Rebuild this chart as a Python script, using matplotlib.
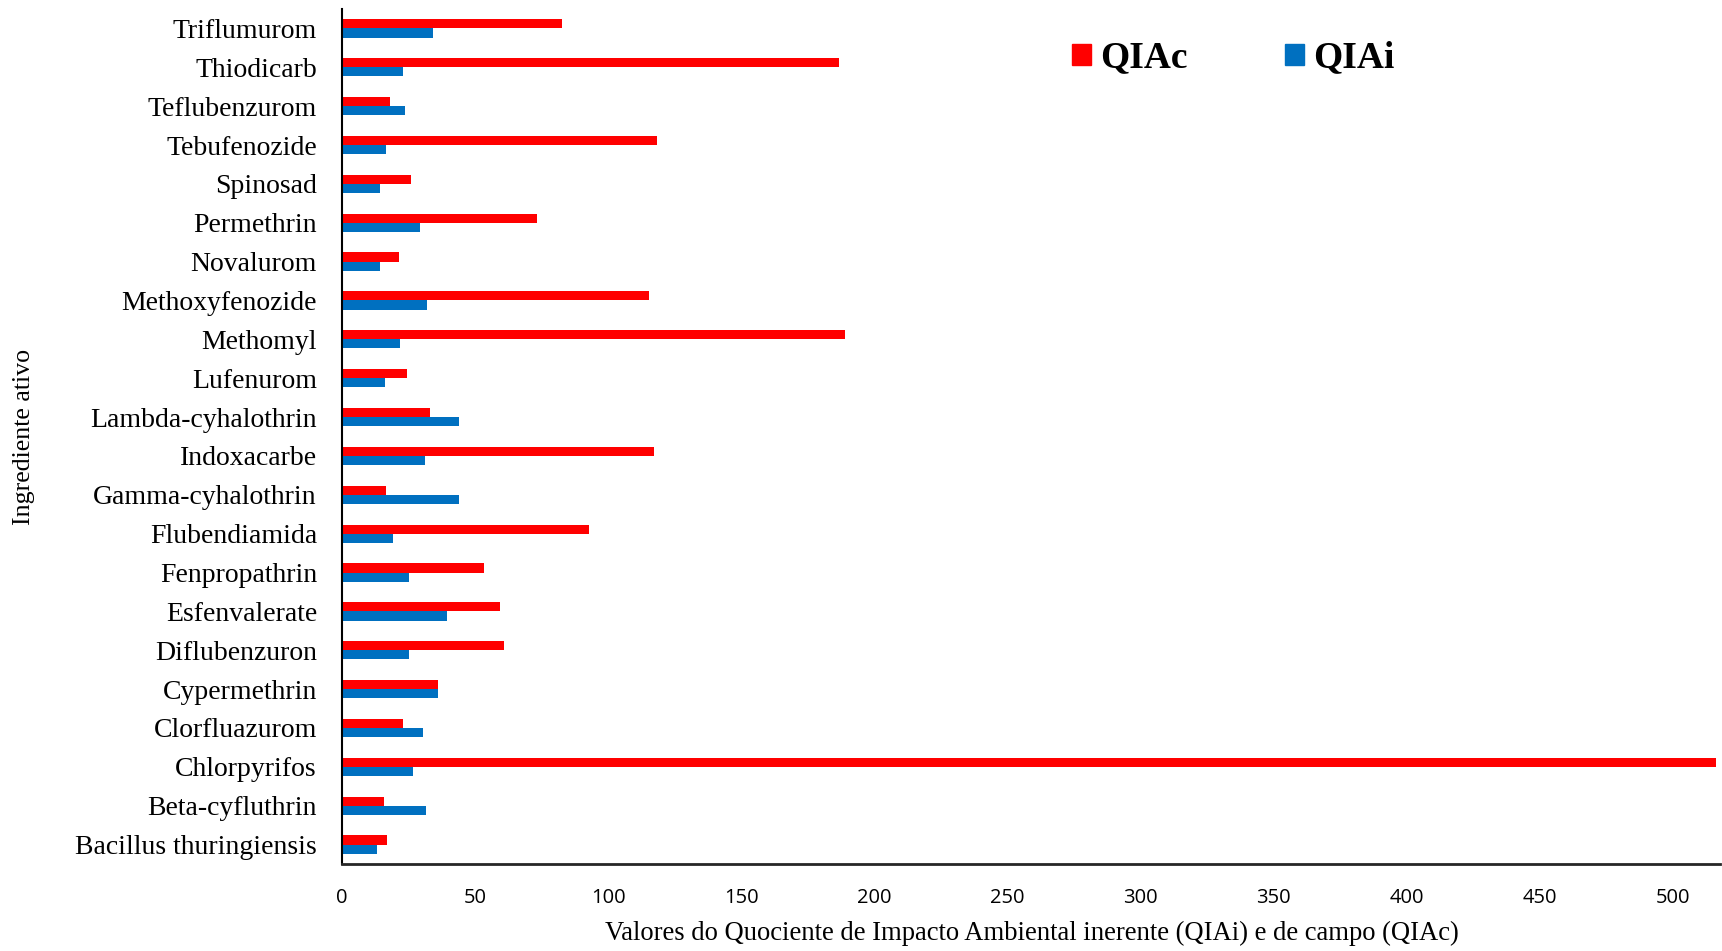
import numpy as np
import matplotlib.pyplot as plt
from matplotlib.patches import Patch


# ingredientes, from bottom to top as in the chart
ingredientes = ['Bacillus thuringiensis', 'Beta-cyfluthrin', 'Chlorpyrifos', 'Clorfluazurom',
                'Cypermethrin', 'Diflubenzuron', 'Esfenvalerate', 'Fenpropathrin',
                'Flubendiamida', 'Gamma-cyhalothrin', 'Indoxacarbe', 'Lambda-cyhalothrin',
                'Lufenurom', 'Methomyl', 'Methoxyfenozide', 'Novalurom', 'Permethrin',
                'Spinosad', 'Tebufenozide', 'Teflubenzurom', 'Thiodicarb', 'Triflumurom']
qiac = [16.9, 15.6, 516.0, 22.8, 36.2, 60.7, 59.4, 53.2, 92.9, 16.4, 117.1, 33.0,
        24.3, 189.1, 115.5, 21.3, 73.1, 25.8, 118.4, 17.9, 186.7, 82.7]
qiai = [13.2, 31.4, 26.7, 30.4, 36.2, 25.2, 39.6, 25.2, 19.3, 43.9, 31.0, 44.1,
        16.1, 21.8, 32.0, 14.1, 29.3, 14.1, 16.4, 23.8, 23.1, 34.2]
xticks = [0, 50, 100, 150, 200, 250, 300, 350, 400, 450, 500]

red = '#FF0000'
blue = '#0070C0'
serif = ['Liberation Serif', 'DejaVu Serif']

fig = plt.figure(figsize=(17.22, 9.51), dpi=100)
ax = fig.add_axes([342/1722, 1 - 864/951, (1720 - 342)/1722, (864 - 9)/951])

y = np.arange(len(ingredientes))
h = 0.235
ax.barh(y + h/2, qiac, height=h, color=red, label='QIAc')
ax.barh(y - h/2, qiai, height=h, color=blue, label='QIAi')

ax.set_ylim(-0.5, len(ingredientes) - 0.5)
ax.set_xlim(0, 517.6)
ax.set_yticks(y)
ax.set_yticklabels(ingredientes, family=serif, fontsize=20)
ax.set_xticks(xticks)
ax.set_xticklabels([str(t) for t in xticks], family=['Open Sans', 'DejaVu Sans'], fontsize=14.5)
ax.tick_params(axis='y', length=0, pad=18)
ax.tick_params(axis='x', length=0, pad=17)

for s in ['top', 'right']:
    ax.spines[s].set_visible(False)
ax.spines['left'].set_color('black')
ax.spines['left'].set_linewidth(1.5)
ax.spines['bottom'].set_color('#262626')
ax.spines['bottom'].set_linewidth(2)

fig.text(0.5993, 1 - 933/951, 'Valores do Quociente de Impacto Ambiental inerente (QIAi) e de campo (QIAc)',
         ha='center', va='center', family=serif, fontsize=19.2)
fig.text(24/1722, 1 - 437/951, 'Ingrediente ativo', rotation=90,
         ha='center', va='center', family=serif, fontsize=18.6)

handles = [Patch(color=red), Patch(color=blue)]
fig.legend(handles, ['QIAc', 'QIAi'], ncol=2, frameon=False,
           loc='center left', bbox_to_anchor=(1072/1722, 1 - 58/951),
           borderaxespad=0, borderpad=0, handlelength=0.5, handleheight=0.5,
           handletextpad=0.25, columnspacing=2.6,
           prop={'family': serif, 'weight': 'bold', 'size': 27})

fig.savefig('out.png', dpi=100)
